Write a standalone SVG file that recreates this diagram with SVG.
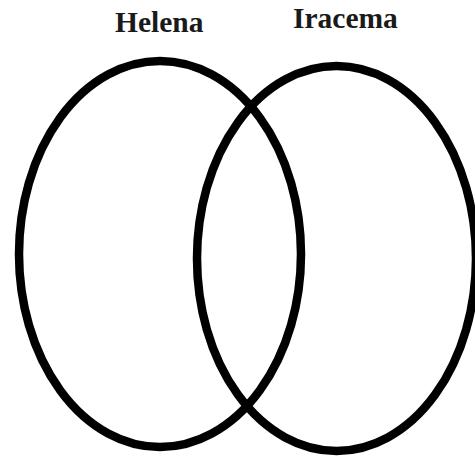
<svg xmlns="http://www.w3.org/2000/svg" width="475" height="456" viewBox="0 0 475 456">
<style>
.set{fill:none;stroke:#000;stroke-width:8.5}
.lbl{font-family:"Liberation Serif","Times New Roman",serif;font-weight:bold;font-size:29.5px;fill:#1a1a1a}
</style>
<rect width="475" height="456" fill="#fff"/>
<g id="helena">
<ellipse class="set" cx="160" cy="254" rx="141" ry="193"/>
<text class="lbl" x="115" y="32">Helena</text>
</g>
<g id="iracema">
<ellipse class="set" cx="336.5" cy="258.5" rx="139.5" ry="192.5"/>
<text class="lbl" x="293" y="28">Iracema</text>
</g>
<g id="connectors"/>
</svg>
